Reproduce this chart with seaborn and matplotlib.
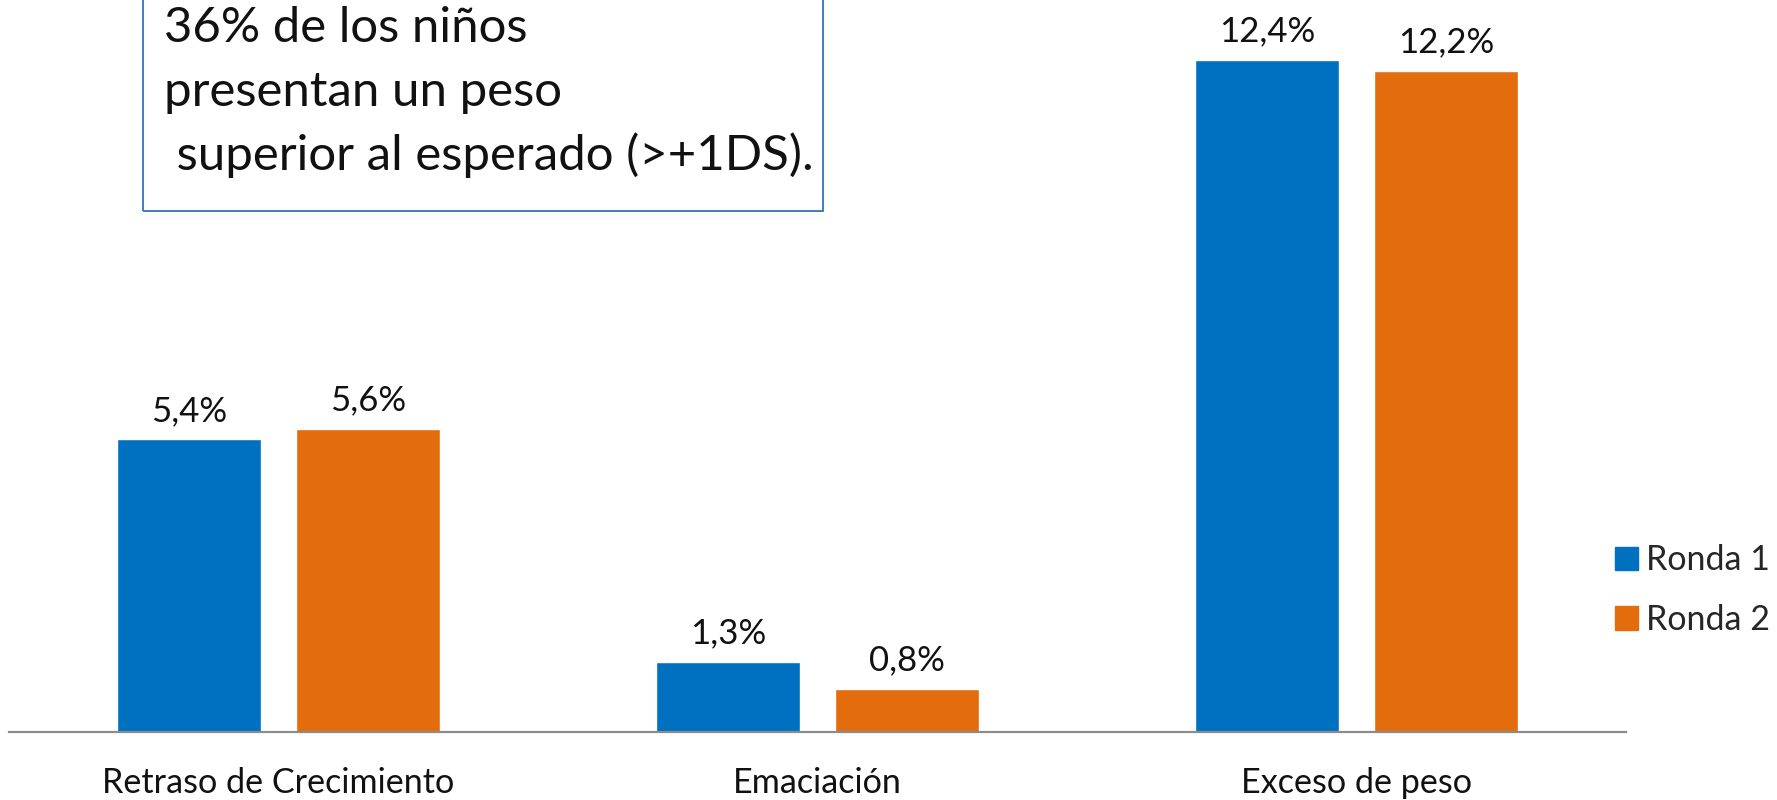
import matplotlib
matplotlib.use("Agg")
import matplotlib.pyplot as plt
from matplotlib.patches import Rectangle
import seaborn as sns
import pandas as pd

categories = ["Retraso de Crecimiento", "Emaciación", "Exceso de peso"]
rounds = ["Ronda 1", "Ronda 2"]
ronda1 = [5.4, 1.3, 12.4]
ronda2 = [5.6, 0.8, 12.2]
note_lines = ["36% de los niños", "presentan un peso", " superior al esperado (>+1DS)."]

colors = ["#0070C0", "#E36C0D"]

sns.set_theme(style="white")
plt.rcParams["font.family"] = ["Lato", "DejaVu Sans"]

df = pd.DataFrame({
    "categoria": categories * 2,
    "ronda": [rounds[0]] * 3 + [rounds[1]] * 3,
    "valor": ronda1 + ronda2,
})

W, H = 1777, 800
fig = plt.figure(figsize=(W / 100, H / 100), dpi=100)
ax = fig.add_axes([9 / W, 1 - 732 / H, (1626 - 9) / W, 732 / H])

sns.barplot(data=df, x="categoria", y="valor", hue="ronda", order=categories,
            hue_order=rounds, palette=colors, width=0.664, gap=0.2,
            saturation=1, ax=ax, legend=False)

for cont in ax.containers:
    ax.bar_label(cont, labels=[f"{v:.1f}%".replace(".", ",") for v in cont.datavalues],
                 padding=9, fontsize=25, color="#111111")

ax.set_xlim(-0.5, 2.5)
ax.set_ylim(0, 13.51)
ax.set_xlabel("")
ax.set_ylabel("")
ax.set_yticks([])
ax.tick_params(axis="x", length=0, pad=25, labelsize=24.6, labelcolor="#111111")
for s in ["left", "right", "top"]:
    ax.spines[s].set_visible(False)
ax.spines["bottom"].set_color("#8C8C8C")
ax.spines["bottom"].set_linewidth(1.6)

# legend on the right
handles = [Rectangle((0, 0), 1, 1, color=c) for c in colors]
fig.legend(handles, rounds, loc="center left", bbox_to_anchor=(1601 / W, 1 - 590 / H),
           frameon=False, fontsize=24.5, handlelength=0.7, handleheight=0.7,
           handletextpad=0.22, labelspacing=0.8, borderaxespad=0)

# annotation box at the top left
box = Rectangle((143 / W, 1 - 211 / H), 680 / W, 0.4, transform=fig.transFigure,
                fill=False, edgecolor="#2E75B6", linewidth=1.3, clip_on=False)
fig.patches.append(box)
for i, line in enumerate(note_lines):
    fig.text(164 / W, 1 - (42 + 64 * i) / H, line, fontsize=35.4, color="#111111",
             ha="left", va="baseline")

fig.savefig("out.png", dpi=100)
